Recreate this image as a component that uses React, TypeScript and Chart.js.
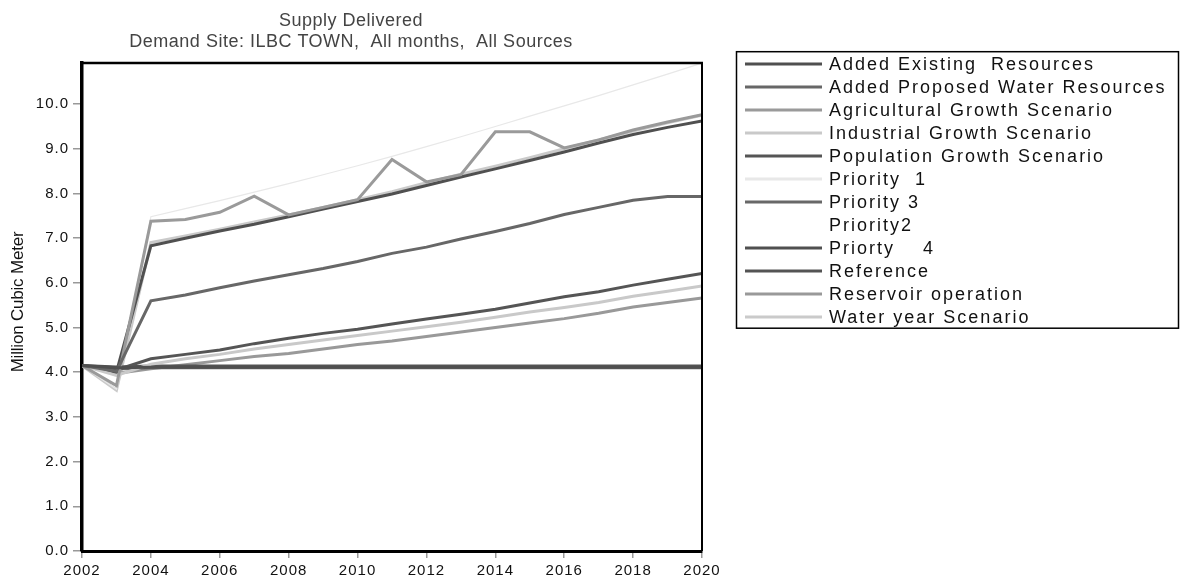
import React, { useEffect, useRef } from "react";
import { Chart, registerables } from "chart.js";

Chart.register(...registerables);

// ---------- data ----------
const years = [2002, 2003, 2004, 2005, 2006, 2007, 2008, 2009, 2010, 2011, 2012, 2013, 2014, 2015, 2016, 2017, 2018, 2019, 2020];

const titleLines = ["Supply Delivered", "Demand Site: ILBC TOWN,  All months,  All Sources"];
const yAxisTitle = "Million Cubic Meter";

const seriesNames = [
  "Added Existing  Resources",
  "Added Proposed Water Resources",
  "Agricultural Growth Scenario",
  "Industrial Growth Scenario",
  "Population Growth Scenario",
  "Priority  1",
  "Priority 3",
  "Priority2",
  "Priorty    4",
  "Reference",
  "Reservoir operation",
  "Water year Scenario",
];

const seriesColors = [
  "#4f4f4f",
  "#676767",
  "#9a9a9a",
  "#c9c9c9",
  "#555555",
  "#e8e8e8",
  "#686868",
  "rgba(245,245,245,0)",
  "#505050",
  "#545454",
  "#999999",
  "#cacaca",
];

const seriesWidths = [3, 3, 3, 3, 3, 1.2, 3, 1.2, 3, 3, 3, 3];

const addedExisting = [4.15, 4.1, 4.11, 4.11, 4.11, 4.11, 4.11, 4.11, 4.11, 4.11, 4.11, 4.11, 4.11, 4.11, 4.11, 4.11, 4.11, 4.11, 4.11];
const addedProposed = [4.15, 4.02, 5.6, 5.73, 5.89, 6.04, 6.18, 6.32, 6.48, 6.66, 6.8, 6.98, 7.15, 7.33, 7.53, 7.69, 7.85, 7.93, 7.93];
const agricultural = [4.15, 3.7, 7.38, 7.42, 7.58, 7.94, 7.52, 7.69, 7.86, 8.76, 8.26, 8.42, 9.38, 9.38, 9.02, 9.2, 9.42, 9.6, 9.76];
const industrial = [4.15, 3.93, 4.18, 4.3, 4.4, 4.52, 4.62, 4.72, 4.82, 4.92, 5.02, 5.12, 5.23, 5.35, 5.45, 5.56, 5.7, 5.81, 5.93];
const population = [4.15, 4.05, 4.3, 4.4, 4.5, 4.64, 4.76, 4.87, 4.96, 5.08, 5.19, 5.3, 5.41, 5.55, 5.69, 5.8, 5.95, 6.08, 6.21];
const priority1 = [4.15, 3.62, 7.48, 7.66, 7.84, 8.03, 8.22, 8.42, 8.62, 8.83, 9.05, 9.27, 9.5, 9.73, 9.96, 10.19, 10.43, 10.67, 10.92];
const priority3 = [4.15, 4.07, 4.1, 4.1, 4.1, 4.1, 4.1, 4.1, 4.1, 4.1, 4.1, 4.1, 4.1, 4.1, 4.1, 4.1, 4.1, 4.1, 4.1];
const priority2 = [4.15, 3.63, 7.42, 7.6, 7.78, 7.97, 8.16, 8.35, 8.55, 8.76, 8.97, 9.19, 9.41, 9.64, 9.87, 10.1, 10.34, 10.58, 10.84];
const priority4 = [4.15, 4.0, 6.83, 7.0, 7.16, 7.31, 7.48, 7.65, 7.82, 7.99, 8.18, 8.37, 8.55, 8.74, 8.93, 9.13, 9.32, 9.48, 9.62];
const reference = [4.15, 4.12, 4.14, 4.14, 4.14, 4.14, 4.14, 4.14, 4.14, 4.14, 4.14, 4.14, 4.14, 4.14, 4.14, 4.14, 4.14, 4.14, 4.14];
const reservoir = [4.15, 3.97, 4.08, 4.17, 4.26, 4.35, 4.42, 4.52, 4.62, 4.7, 4.8, 4.9, 5.0, 5.1, 5.2, 5.32, 5.46, 5.56, 5.66];
const waterYear = [4.15, 3.6, 6.9, 7.05, 7.2, 7.36, 7.52, 7.69, 7.86, 8.04, 8.24, 8.43, 8.61, 8.8, 9.0, 9.2, 9.4, 9.58, 9.75];

const seriesValues = [
  addedExisting,
  addedProposed,
  agricultural,
  industrial,
  population,
  priority1,
  priority3,
  priority2,
  priority4,
  reference,
  reservoir,
  waterYear,
];

const FONT = "'Liberation Sans', Arial, Helvetica, sans-serif";

export default function App() {
  const ref = useRef<HTMLCanvasElement>(null);

  useEffect(() => {
    const canvas = ref.current;
    if (!canvas) return;

    const datasets = seriesNames.map((name, i) => ({
      label: name,
      data: seriesValues[i].map((v, j) => ({ x: years[j], y: v })),
      borderColor: seriesColors[i],
      backgroundColor: seriesColors[i],
      borderWidth: seriesWidths[i],
      pointRadius: 0,
      pointHoverRadius: 0,
      tension: 0,
      fill: false,
    }));

    const decorations = {
      id: "decorations",
      beforeDraw(chart: any) {
        (chart.ctx as any).letterSpacing = "1px";
      },
      afterDraw(chart: any) {
        const ctx = chart.ctx as CanvasRenderingContext2D;
        const area = chart.chartArea;
        ctx.save();

        // frame top & right
        ctx.strokeStyle = "#000";
        ctx.lineWidth = 2.5;
        ctx.beginPath();
        ctx.moveTo(area.left - 1.5, area.top);
        ctx.lineTo(area.right + 1, area.top);
        ctx.stroke();
        ctx.lineWidth = 2;
        ctx.beginPath();
        ctx.moveTo(area.right, area.top);
        ctx.lineTo(area.right, area.bottom);
        ctx.stroke();

        // title
        (ctx as any).letterSpacing = "0.5px";
        ctx.fillStyle = "#444";
        ctx.font = `18px ${FONT}`;
        ctx.textAlign = "center";
        ctx.textBaseline = "alphabetic";
        const cx = area.right / 2;
        ctx.fillText(titleLines[0], cx, 26);
        ctx.fillText(titleLines[1], cx, 46.5);

        // y axis title
        (ctx as any).letterSpacing = "-0.2px";
        ctx.fillStyle = "#111";
        ctx.font = `17px ${FONT}`;
        ctx.save();
        ctx.translate(18, 302);
        ctx.rotate(-Math.PI / 2);
        ctx.textAlign = "center";
        ctx.textBaseline = "middle";
        ctx.fillText(yAxisTitle, 0, 0);
        ctx.restore();

        // legend
        const lx = 736.5;
        const ly = 51.7;
        const lw = 442;
        const lh = 276.5;
        ctx.strokeStyle = "#000";
        ctx.lineWidth = 1.5;
        ctx.strokeRect(lx, ly, lw, lh);
        ctx.font = `18px ${FONT}`;
        (ctx as any).letterSpacing = "2px";
        ctx.textAlign = "left";
        ctx.textBaseline = "middle";
        chart.data.datasets.forEach((ds: any, i: number) => {
          const y = 64 + i * 23;
          ctx.strokeStyle = ds.borderColor;
          ctx.lineWidth = 3;
          ctx.beginPath();
          ctx.moveTo(745, y);
          ctx.lineTo(822, y);
          ctx.stroke();
          ctx.fillStyle = "#111";
          ctx.fillText(ds.label, 829, y + 1);
        });
        ctx.restore();
        (ctx as any).letterSpacing = "0px";
      },
    };

    const tickFont = { family: FONT, size: 15 };

    const chart = new Chart(canvas, {
      type: "line",
      data: { datasets },
      options: {
        animation: false,
        responsive: false,
        devicePixelRatio: 1,
        layout: { padding: { left: 0, top: 63, right: 478, bottom: 0 } },
        plugins: {
          legend: { display: false },
          title: { display: false },
          tooltip: { enabled: false },
        },
        scales: {
          x: {
            type: "linear",
            min: 2002,
            max: 2020,
            ticks: {
              stepSize: 2,
              callback: (v: any) => String(v),
              color: "#111",
              font: tickFont,
              padding: 4,
              maxRotation: 0,
              autoSkip: false,
            },
            grid: {
              drawOnChartArea: false,
              drawTicks: true,
              tickLength: 7,
              color: "#999",
              lineWidth: 1.5,
            },
            border: { display: true, color: "#000", width: 3 },
            afterFit: (s: any) => {
              s.height = 29;
            },
          },
          y: {
            type: "linear",
            min: 0,
            max: 10.92,
            ticks: {
              stepSize: 1,
              includeBounds: false,
              callback: (v: any) => Number(v).toFixed(1),
              color: "#111",
              font: tickFont,
              padding: 4,
            },
            grid: {
              drawOnChartArea: false,
              drawTicks: true,
              tickLength: 9,
              color: "#999",
              lineWidth: 1.5,
            },
            border: { display: true, color: "#000", width: 3.5 },
            afterFit: (s: any) => {
              s.width = 82;
            },
          },
        },
      },
      plugins: [decorations],
    } as any);

    return () => chart.destroy();
  }, []);

  return (
    <div style={{ position: "absolute", left: 0, top: 0, width: 1180, height: 580, background: "#fff" }}>
      <canvas ref={ref} width={1180} height={580} style={{ display: "block" }} />
    </div>
  );
}
